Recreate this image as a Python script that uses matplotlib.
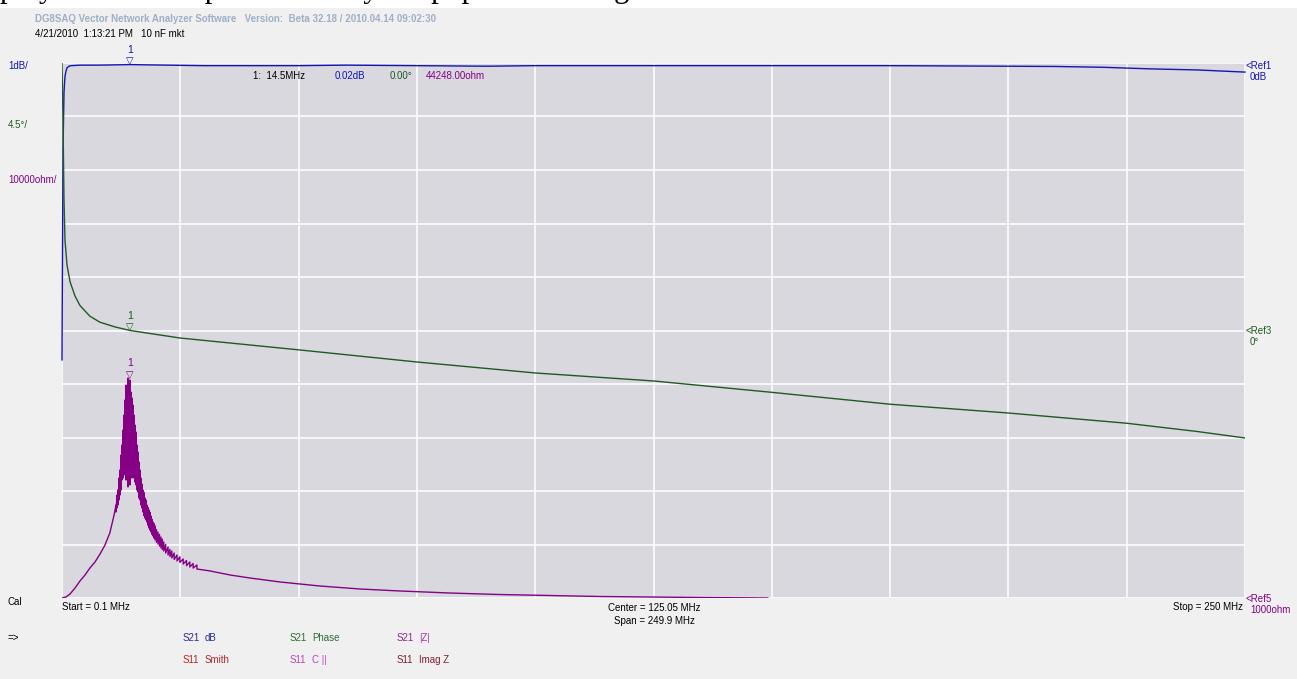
import numpy as np
import matplotlib
matplotlib.use("Agg")
import matplotlib.pyplot as plt

W, H = 1297, 679

# ---------------- data ----------------
f_start, f_stop = 0.1, 250.0

# S21 dB (blue)
db_freq = [0.1, 0.31, 0.52, 0.73, 0.95, 1.16, 1.58, 2.0, 4.0, 8.0, 14.5, 30, 50, 60, 75, 90,
           100, 125, 150, 175, 200, 210, 220, 230, 240, 250]
db_vals = [-5.55, -1.63, -0.55, -0.25, -0.15, -0.09, -0.06, -0.05, -0.04, -0.04, -0.03, -0.05,
           -0.05, -0.04, -0.05, -0.06, -0.05, -0.05, -0.05, -0.05, -0.06, -0.065, -0.08, -0.11,
           -0.13, -0.17]

# S21 Phase (green)
ph_freq = [0.1, 0.31, 0.52, 0.73, 1.16, 1.8, 2.85, 3.9, 6.0, 8.1, 11.3, 14.5, 25.0, 50.4,
           75.1, 100.0, 125.2, 150.0, 175.0, 200.0, 225.0, 240.0, 250.0]
ph_vals = [22.5, 17.7, 11.0, 7.6, 5.5, 4.1, 2.9, 2.1, 1.2, 0.7, 0.3, 0.0, -0.63, -1.64,
           -2.65, -3.57, -4.25, -5.2, -6.2, -6.94, -7.8, -8.5, -9.04]

# S21 |Z| (purple) - rising flank
z_rise_freq = [0.1, 0.95, 1.79, 2.85, 3.9, 4.96, 6.0, 7.07, 8.13, 9.18, 10.2, 11.1]
z_rise_ohm = [1000, 1190, 1750, 2870, 4180, 5300, 6610, 7730, 9220, 10900, 13150, 16500]
# noisy resonance region: upper and lower excursions
z_peak_freq = [11.5, 11.72, 11.93, 12.14, 12.35, 12.56, 12.77, 12.99, 13.2, 13.41, 13.62,
               13.83, 14.04, 14.25, 14.46, 14.67, 14.89, 15.1, 15.31, 15.52, 15.73, 15.94,
               16.15, 16.37, 16.58, 16.79, 17.0, 17.21, 17.42, 17.63, 17.85, 18.06, 18.27,
               18.48, 18.69, 18.9, 19.11, 19.32, 19.53, 19.75, 20.06, 20.38, 20.7, 21.0,
               21.3, 21.6, 22.0, 22.5, 22.9, 23.3, 23.8, 24.4, 25.0, 25.7, 26.4, 27.1, 27.8,
               28.6]
z_peak_hi = [18380, 20250, 21190, 23430, 24920, 27730, 29600, 32400, 35200, 38010, 40810,
             38940, 42120, 39880, 41740, 39500, 38380, 37070, 35200, 33330, 32030, 29600,
             28290, 26420, 24920, 23430, 22310, 21190, 20700, 19690, 19300, 18380, 17900,
             17450, 17000, 16330, 15700, 15200, 14900, 14460, 13800, 13340, 12900, 12400,
             12000, 11470, 11000, 10530, 10100, 9780, 9400, 9040, 8700, 8290, 8000, 7730,
             7450, 7170]
z_peak_lo = [17070, 17820, 18380, 19320, 20250, 21190, 23050, 23430, 24920, 24000, 23050,
             25860, 21750, 24920, 22120, 25300, 23430, 24920, 23430, 22680, 22120, 21190,
             20810, 19690, 19320, 18380, 17820, 17070, 16400, 15950, 15600, 15200, 14600,
             14080, 13700, 13340, 12900, 12590, 12200, 11840, 11400, 11090, 10700, 10350,
             10050, 9780, 9400, 9040, 8750, 8480, 8200, 7920, 7650, 7350, 7050, 6790, 6600,
             6420]
# falling tail
z_tail_freq = [31.4, 35.6, 39.8, 46.2, 54.6, 63.1, 71.5, 82.1, 92.6, 103.2, 113.8, 124.3,
               134.9, 149.2]
z_tail_ohm = [6050, 5300, 4740, 3990, 3240, 2680, 2310, 1930, 1650, 1470, 1280, 1190, 1090, 1000]

marker_freq = 14.5
marker_db, marker_ph, marker_z = -0.03, 0.0, 42120

# ---------------- figure ----------------
fig = plt.figure(figsize=(W / 100, H / 100), dpi=100)
fig.patch.set_facecolor("#f0f0f0")


def fx(x):
    return x / W


def fy(y):
    return 1 - y / H


# white band at top with cropped body text (cut off in the source screenshot too)
fig.patches.append(plt.Rectangle((0, fy(8)), 1, 1 - fy(8), transform=fig.transFigure,
                                 facecolor="white", edgecolor="none", zorder=0))
fig.text(fx(0), fy(-3), "polyester film capacitors. They are popular for longer life in these cases.",
         family="Liberation Serif", fontsize=22, va="baseline", ha="left", color="black")

L, R, T, B = 62, 1245, 63, 598
ax = fig.add_axes([fx(L), fy(B), fx(R) - fx(L), fy(T) - fy(B)])
ax.set_facecolor("#d9d8df")
ax.set_xlim(f_start, f_stop)
ax.set_ylim(1000, 101000)
ax.set_xticks(np.linspace(f_start, f_stop, 11))
ax.set_yticks(np.linspace(1000, 101000, 11))
ax.grid(True, color="white", linewidth=1.1)
ax.tick_params(length=0, labelbottom=False, labelleft=False)
for s in ax.spines.values():
    s.set_visible(False)

ax_db = ax.twinx()
ax_db.set_ylim(-10, 0)
ax_ph = ax.twinx()
ax_ph.set_ylim(-22.5, 22.5)
for a in (ax_db, ax_ph):
    a.set_xlim(f_start, f_stop)
    a.tick_params(length=0, labelright=False, labelleft=False)
    for s in a.spines.values():
        s.set_visible(False)

blue = "#1515b5"
green = "#1f5a20"
purple = "#850085"

# purple |Z|
zf, zo = list(z_rise_freq), list(z_rise_ohm)
for f, hi, lo in zip(z_peak_freq, z_peak_hi, z_peak_lo):
    zf += [f, f]
    zo += [hi, lo]
zf += z_tail_freq
zo += z_tail_ohm
ax.plot(zf, zo, color=purple, lw=1.0, zorder=3)

ax_ph.plot(ph_freq, ph_vals, color=green, lw=1.0, zorder=3)
ax_db.plot(db_freq, db_vals, color=blue, lw=1.0, zorder=3, clip_on=False)


def marker(a, yv, col):
    a.annotate("▽", (marker_freq, yv), xytext=(0, -1), textcoords="offset points",
               ha="center", va="bottom", fontsize=7, color=col, annotation_clip=False,
               family="DejaVu Sans")
    a.annotate("1", (marker_freq, yv), xytext=(0, 7), textcoords="offset points",
               ha="center", va="bottom", fontsize=7.5, color=col, annotation_clip=False,
               family="Liberation Sans")


marker(ax_db, marker_db, blue)
marker(ax_ph, marker_ph, green)
marker(ax, marker_z, purple)

sf = dict(family="Liberation Sans", fontsize=7)

# header
fig.text(fx(35), fy(19), "DG8SAQ Vector Network Analyzer Software   Version:  Beta 32.18 / 2010.04.14 09:02:30",
         color="#9fb0c6", fontweight="bold", va="center", **sf)
fig.text(fx(35), fy(34), "4/21/2010  1:13:21 PM   10 nF mkt", color="black", va="center", **sf)

# marker readout
fig.text(fx(253), fy(76), "1:  14.5MHz", color="black", va="center", **sf)
fig.text(fx(335), fy(76), "0.02dB", color=blue, va="center", **sf)
fig.text(fx(390), fy(76), "0.00°", color=green, va="center", **sf)
fig.text(fx(426), fy(76), "44248.00ohm", color=purple, va="center", **sf)

# left scale labels
fig.text(fx(8), fy(66), "1dB/", color=blue, va="center", **sf)
fig.text(fx(8), fy(125), "4.5°/", color=green, va="center", **sf)
fig.text(fx(8), fy(180), "10000ohm/", color=purple, va="center", **sf)
fig.text(fx(8), fy(602), "Cal", color="black", va="center", **sf)
fig.text(fx(8), fy(638), "=>", color="black", va="center", **sf)

# right reference labels
fig.text(fx(1246), fy(66), "<Ref1", color=blue, va="center", **sf)
fig.text(fx(1250), fy(77), "0dB", color=blue, va="center", **sf)
fig.text(fx(1246), fy(331), "<Ref3", color=green, va="center", **sf)
fig.text(fx(1250), fy(342), "0°", color=green, va="center", **sf)
fig.text(fx(1246), fy(599), "<Ref5", color=purple, va="center", **sf)
fig.text(fx(1250), fy(610), "1000ohm", color=purple, va="center", **sf)

# frequency labels
fig.text(fx(62), fy(607), "Start = 0.1 MHz", color="black", va="center", **sf)
fig.text(fx(654), fy(608), "Center = 125.05 MHz", color="black", va="center", ha="center", **sf)
fig.text(fx(654), fy(621), "Span = 249.9 MHz", color="black", va="center", ha="center", **sf)
fig.text(fx(1243), fy(607), "Stop = 250 MHz", color="black", va="center", ha="right", **sf)

# trace legend
legend_rows = [
    [("S21", "dB", "#2b2b8c", "#2b2b8c"), ("S21", "Phase", "#2f6b2f", "#2f6b2f"),
     ("S21", "|Z|", "#8b2a8b", "#b030b0")],
    [("S11", "Smith", "#b02828", "#b02828"), ("S11", "C ||", "#c040c0", "#c040c0"),
     ("S11", "Imag Z", "#802030", "#802030")],
]
for r, (row, yy) in enumerate(zip(legend_rows, [638, 660])):
    for c, (p, q, c1, c2) in enumerate(row):
        x0 = 183 + c * 107
        fig.text(fx(x0), fy(yy), p, color=c1, va="center", **sf)
        fig.text(fx(x0 + 22), fy(yy), q, color=c2, va="center", **sf)

fig.savefig("out.png", dpi=100, facecolor=fig.get_facecolor())
